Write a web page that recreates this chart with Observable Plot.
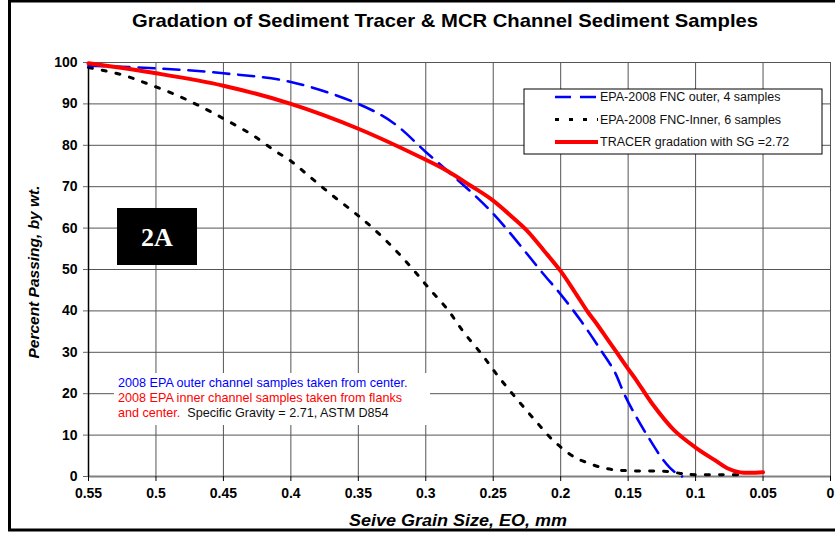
<!DOCTYPE html>
<html><head><meta charset="utf-8">
<script src="https://cdn.jsdelivr.net/npm/d3@7"></script>
<script src="https://cdn.jsdelivr.net/npm/@observablehq/plot@0.6"></script>
<style>
body{margin:0;background:#fff;}
#chart{position:relative;width:835px;height:533px;overflow:hidden;background:#fff}
</style></head><body><div id="chart"></div>
<script>
// ---- data ----
const outerSize = [0.55, 0.5, 0.45, 0.4, 0.35, 0.324, 0.3, 0.28, 0.265, 0.25, 0.237, 0.225, 0.2125, 0.2, 0.185, 0.17, 0.16, 0.153, 0.145, 0.136, 0.124, 0.116, 0.11];
const outerPass = [99.2, 98.6, 97.4, 95.3, 90.0, 85.4, 78.4, 72.7, 68.3, 63.5, 58.6, 53.8, 48.8, 44.0, 37.6, 30.4, 25.3, 20.0, 15.0, 10.0, 4.0, 1.2, 0];

const innerSize = [0.55, 0.526, 0.5065, 0.486, 0.467, 0.448, 0.429, 0.412, 0.4, 0.386, 0.37, 0.3535, 0.341, 0.3255, 0.311, 0.298, 0.284, 0.272, 0.2587, 0.2463, 0.233, 0.2193, 0.2055, 0.19, 0.18, 0.17, 0.16, 0.15, 0.13, 0.12, 0.112, 0.105, 0.08, 0.065];
const innerPass = [98.8, 97.1, 94.9, 92.3, 89.4, 86.1, 82.6, 78.7, 76.2, 72.4, 68.1, 63.9, 60.5, 55.7, 50.6, 45.6, 40.4, 34.9, 29.6, 24.2, 18.9, 13.7, 8.7, 4.7, 3.3, 2.2, 1.6, 1.4, 1.3, 1.2, 0.8, 0.5, 0.4, 0.4];

const tracerSize = [0.55, 0.5, 0.45, 0.4, 0.35, 0.3, 0.284, 0.267, 0.252, 0.237, 0.225, 0.2125, 0.2, 0.19, 0.18, 0.174, 0.165, 0.159, 0.15, 0.144, 0.132, 0.116, 0.1, 0.086, 0.0765, 0.067, 0.05];
const tracerPass = [99.8, 97.4, 94.4, 90.0, 84.0, 76.5, 73.8, 70.3, 67.1, 63.0, 59.4, 54.6, 49.6, 44.8, 39.8, 37.2, 33.0, 30.2, 26.0, 23.3, 17.5, 11.2, 7.0, 4.0, 2.0, 1.0, 1.0];

const xTicks = [0.55, 0.5, 0.45, 0.4, 0.35, 0.3, 0.25, 0.2, 0.15, 0.1, 0.05, 0];
const xTickLabels = ["0.55", "0.5", "0.45", "0.4", "0.35", "0.3", "0.25", "0.2", "0.15", "0.1", "0.05", "0"];
const yTicks = [0, 10, 20, 30, 40, 50, 60, 70, 80, 90, 100];

const titleText = "Gradation of Sediment Tracer & MCR Channel Sediment Samples";
const xLabel = "Seive Grain Size, EO, mm";
const yLabel = "Percent Passing, by wt.";
const legendLabels = ["EPA-2008 FNC outer, 4 samples", "EPA-2008 FNC-Inner, 6 samples", "TRACER gradation with SG =2.72"];
const noteBlue = "2008 EPA outer channel samples taken from center.";
const noteRed1 = "2008 EPA inner channel samples taken from flanks";
const noteRed2 = "and center.";
const noteBlack = "Specific Gravity = 2.71, ASTM D854";
const badgeText = "2A";

// ---- build tables ----
const toRows = (xs, ys) => xs.map((s, i) => ({size: s, pass: ys[i]}));
const outer = toRows(outerSize, outerPass);
const inner = toRows(innerSize, innerPass);
const tracer = toRows(tracerSize, tracerPass);

const F = "'Liberation Sans', Arial, sans-serif";
const styles = [
  {stroke: "#0000ff", width: 2.6, dash: "16,9"},
  {stroke: "#000000", width: 3, dash: "4,10"},
  {stroke: "#ff0000", width: 4, dash: null}
];

const chart = Plot.plot({
  width: 835, height: 533,
  marginLeft: 88, marginRight: 5, marginTop: 62, marginBottom: 57,
  style: {fontFamily: F, background: "white", overflow: "visible"},
  x: {domain: [0.55, 0]},
  y: {domain: [0, 100]},
  marks: [
    Plot.gridX(xTicks, {stroke: "#555", strokeOpacity: 1, strokeWidth: 1}),
    Plot.gridY(yTicks, {stroke: "#555", strokeOpacity: 1, strokeWidth: 1}),
    Plot.ruleY([0], {stroke: "#808080", strokeWidth: 2}),
    Plot.ruleX([0.55], {stroke: "#000", strokeWidth: 1.5}),
    Plot.axisX(xTicks, {tickSize: 5, tickPadding: 7, fontSize: 14, fontWeight: "bold", fill: "#000", stroke: "#000", label: null, tickFormat: (d, i) => xTickLabels[i]}),
    Plot.axisY(yTicks, {tickSize: 5, tickPadding: 6, fontSize: 14, fontWeight: "bold", fill: "#000", stroke: "#666", label: null}),
    Plot.line(inner, {x: "size", y: "pass", stroke: styles[1].stroke, strokeWidth: styles[1].width, strokeDasharray: styles[1].dash, curve: "catmull-rom"}),
    Plot.line(outer, {x: "size", y: "pass", stroke: styles[0].stroke, strokeWidth: styles[0].width, strokeDasharray: styles[0].dash, curve: "catmull-rom"}),
    Plot.line(tracer, {x: "size", y: "pass", stroke: styles[2].stroke, strokeWidth: styles[2].width, curve: "catmull-rom"})
  ]
});
document.getElementById("chart").appendChild(chart);

const svg = d3.select(chart);

// title and axis titles
svg.append("text").attr("x", 445).attr("y", 27).attr("text-anchor", "middle")
  .attr("font-family", F).attr("font-size", 19).attr("font-weight", "bold").attr("fill", "#000")
  .attr("textLength", 626).attr("lengthAdjust", "spacingAndGlyphs").text(titleText);
svg.append("text").attr("x", 458).attr("y", 526).attr("text-anchor", "middle")
  .attr("font-family", F).attr("font-size", 17).attr("font-weight", "bold").attr("font-style", "italic").attr("fill", "#000")
  .attr("textLength", 218).attr("lengthAdjust", "spacingAndGlyphs").text(xLabel);
svg.append("text").attr("transform", "translate(39,272) rotate(-90)").attr("text-anchor", "middle")
  .attr("font-family", F).attr("font-size", 15.5).attr("font-weight", "bold").attr("font-style", "italic").attr("fill", "#000").text(yLabel);

// legend
const lg = svg.append("g").attr("text-anchor", "start");
lg.append("rect").attr("x", 524).attr("y", 89).attr("width", 298).attr("height", 65)
  .attr("fill", "white").attr("stroke", "#000").attr("stroke-width", 1);
const rowY = [97, 119.5, 142];
legendLabels.forEach((lab, i) => {
  const s = styles[i];
  lg.append("line").attr("x1", 555).attr("x2", 598).attr("y1", rowY[i]).attr("y2", rowY[i])
    .attr("stroke", s.stroke).attr("stroke-width", s.width).attr("stroke-dasharray", s.dash);
  lg.append("text").attr("x", 600).attr("y", rowY[i]).attr("dy", "0.35em").attr("text-anchor", "start")
    .attr("font-family", F).attr("font-size", 12.5).attr("fill", "#111").text(lab);
});

// note block
svg.append("rect").attr("x", 114).attr("y", 373).attr("width", 316).attr("height", 52).attr("fill", "white");
const nt = svg.append("g").attr("font-family", F).attr("font-size", 12.6).attr("text-anchor", "start");
nt.append("text").attr("x", 118).attr("y", 383).attr("dy", "0.35em").attr("text-anchor", "start").attr("fill", "#0000ff").text(noteBlue);
nt.append("text").attr("x", 118).attr("y", 398).attr("dy", "0.35em").attr("text-anchor", "start").attr("fill", "#ff0000").text(noteRed1);
const t3 = nt.append("text").attr("x", 118).attr("y", 413).attr("dy", "0.35em").attr("text-anchor", "start");
t3.append("tspan").attr("fill", "#ff0000").text(noteRed2);
t3.append("tspan").attr("fill", "#111").attr("dx", 7).text(noteBlack);

// 2A badge
svg.append("rect").attr("x", 117).attr("y", 208).attr("width", 80).attr("height", 57).attr("fill", "#000");
svg.append("text").attr("x", 157).attr("y", 237).attr("dy", "0.35em").attr("text-anchor", "middle")
  .attr("font-family", "'Liberation Serif', 'Times New Roman', serif").attr("font-size", 26).attr("font-weight", "bold")
  .attr("fill", "#fff").text(badgeText);

// outer border
svg.append("rect").attr("x", 9.5).attr("y", 1).attr("width", 900).attr("height", 529)
  .attr("fill", "none").attr("stroke", "#000").attr("stroke-width", 3);
</script></body></html>
